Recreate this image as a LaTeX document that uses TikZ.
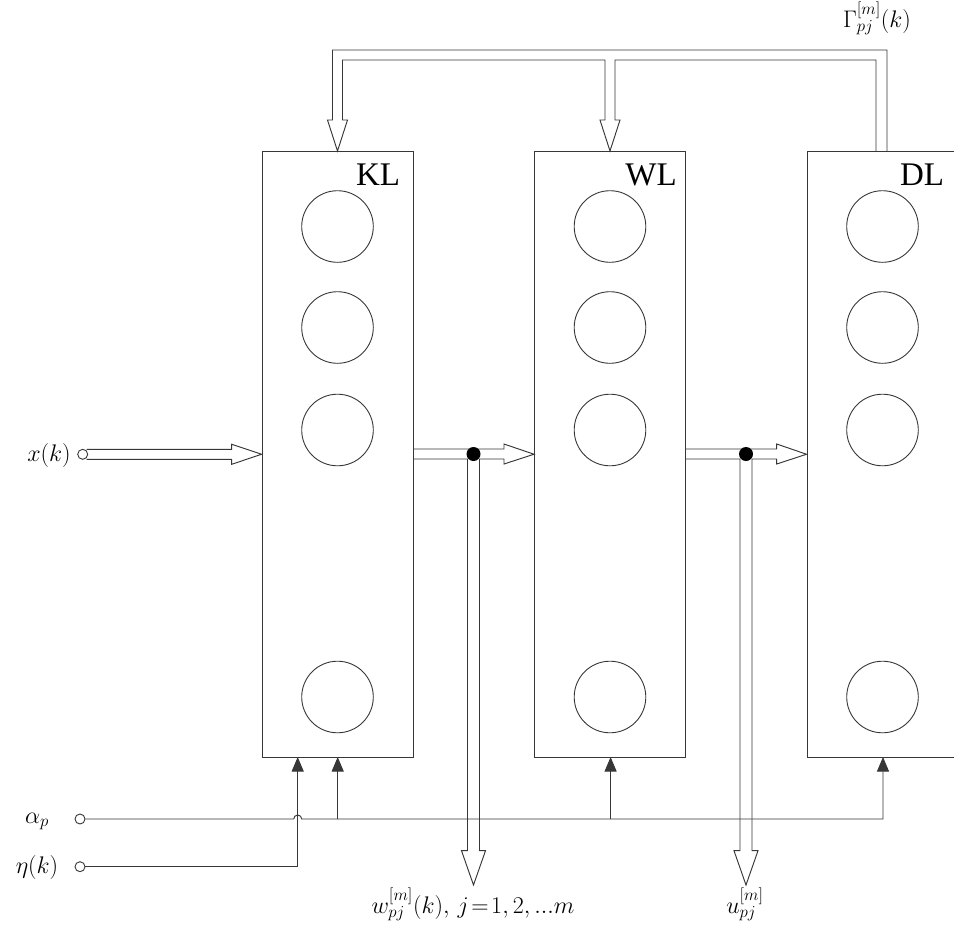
\RequirePackage{fix-cm}
\documentclass[tikz,border=0pt]{standalone}
\usepackage{fontspec}
\setmainfont{Liberation Serif}
\usetikzlibrary{arrows.meta}
\definecolor{ln}{RGB}{55,55,55}
\begin{document}
\begin{tikzpicture}[x=1pt,y=-1pt,
  layer/.style={draw=ln, line width=0.95pt, minimum width=151pt, minimum height=605.5pt, inner sep=0pt},
  neuron/.style={draw=ln, line width=0.9pt, circle, minimum size=71.6pt, inner sep=0pt},
  port/.style={draw=ln, line width=0.9pt, circle, fill=white, minimum size=10pt, inner sep=0pt},
  junction/.style={fill=black, circle, minimum size=14pt, inner sep=0pt},
  pipe/.style={draw=ln, line width=0.95pt, line join=miter},
  sig/.style={draw=ln, line width=0.95pt, -{Triangle[length=14.5pt,width=12pt]}},
  lname/.style={font=\fontsize{33}{36}\selectfont, inner sep=0pt},
  mlabel/.style={font=\fontsize{24}{28}\selectfont, inner sep=0pt},
]
\useasboundingbox (0,0) rectangle (954,938);

% layers
\node[layer] (KL) at (337.5,454.25) {};
\node[layer] (WL) at (610,454.25) {};
\node[layer] (DL) at (882.5,454.25) {};

\node[lname] (KLt) at (378,175) {KL};
\node[lname] (WLt) at (651,175) {WL};
\node[lname] (DLt) at (922,175) {DL};

% neurons
\foreach \L/\cx in {KL/337.5, WL/610, DL/882.5}{
  \foreach \i/\cy in {1/226.5, 2/327.5, 3/430, 4/697}{
    \node[neuron] (\L\i) at (\cx,\cy) {};
  }
}

% feedback pipe from DL to KL and WL
\draw[pipe] (887,151.5) -- (887,50) -- (332.5,50) -- (332.5,120) -- (327.5,120)
  -- (KL.north) -- (347.5,120) -- (342.5,120) -- (342.5,60) -- (605,60)
  -- (605,120) -- (600,120) -- (WL.north) -- (620,120) -- (615,120)
  -- (615,60) -- (876,60) -- (876,151.5);
\node[mlabel, anchor=base] (gam) at (877,27) {$\Gamma_{pj}^{[m]}(k)$};

% input x(k)
\node[port] (xport) at (82.7,454.3) {};
\node[mlabel] (xk) at (49,455) {$x(k)$};
\draw[pipe] (xport.north east |- 0,449.3) -- (231.7,449.3) -- (231.7,444.3) -- (KL.west)
  -- (231.7,464.3) -- (231.7,459.3) -- (xport.south east |- 0,459.3);

% KL -> WL pipe with output w
\draw[pipe] (413,449) -- (504,449) -- (504,444) -- (WL.west) -- (504,464) -- (504,459)
  -- (479.5,459) -- (479.5,850.7) -- (485.5,850.7) -- (473.5,885) -- (461.5,850.7)
  -- (467.5,850.7) -- (467.5,459) -- (413,459);
\node[junction] (j1) at (473.5,454) {};

% WL -> DL pipe with output u
\draw[pipe] (685,449) -- (776.7,449) -- (776.7,444) -- (DL.west) -- (776.7,464) -- (776.7,459)
  -- (752,459) -- (752,850.7) -- (758,850.7) -- (746,885) -- (734,850.7)
  -- (740,850.7) -- (740,459) -- (685,459);
\node[junction] (j2) at (746,454) {};

\node[mlabel, anchor=base] (wlab) at (473,913) {$w_{pj}^{[m]}(k),\, j\!=\!1,2,...m$};
\node[mlabel, anchor=base] (ulab) at (745,913) {$u_{pj}^{[m]}$};

% control inputs
\node[port] (aport) at (80,819) {};
\node[port] (eport) at (80,866.7) {};
\node[mlabel, anchor=base] (alab) at (37,823) {$\alpha_p$};
\node[mlabel] (elab) at (37,867) {$\eta(k)$};

\draw[sig] (eport.east) -- (297.7,866.7) -- (297.7,757);
\draw[sig] (aport.east) -- (293.7,819) arc[start angle=180, end angle=360, radius=4]
  -- (883,819) -- (883,757);
\draw[sig] (337.7,819) -- (337.7,757);
\draw[sig] (610.6,819) -- (610.6,757);
\end{tikzpicture}
\end{document}
